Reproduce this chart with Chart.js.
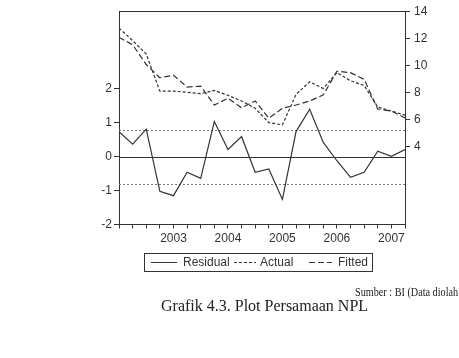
<!DOCTYPE html>
<html>
<head>
<meta charset="utf-8">
<script src="https://cdn.jsdelivr.net/npm/chart.js@4.4.1/dist/chart.umd.min.js"></script>
<style>
	html, body { margin: 0; padding: 0; background: #fff; }
	.wrap { position: relative; width: 459px; height: 358px; overflow: hidden; }
	#npl-chart { position: absolute; left: 0; top: 0; }
	.legend {
		position: absolute; left: 144px; top: 253px; width: 229px; height: 19px;
		box-sizing: border-box; border: 1px solid #333;
		font: 12px 'Liberation Sans', Arial, sans-serif; color: #333;
	}
	.legend span { position: absolute; top: 1px; line-height: 15px; }
	.legend i { position: absolute; top: 8px; height: 1px; }
	.ln-solid { background: #333; }
	.ln-short { background: repeating-linear-gradient(90deg, #333 0 3px, transparent 3px 5px); }
	.ln-long { background: repeating-linear-gradient(90deg, #333 0 6px, transparent 6px 9px); }
	.source {
		position: absolute; left: 355px; top: 285px; white-space: nowrap;
		font: 12px 'Liberation Serif', 'Times New Roman', serif; color: #222;
		transform: scaleX(0.85); transform-origin: left top;
	}
	.caption {
		position: absolute; left: 161px; top: 297px; white-space: nowrap;
		font: 16px 'Liberation Serif', 'Times New Roman', serif; color: #222;
	}
</style>
</head>
<body>
<div class="wrap">
	<canvas id="npl-chart" width="459" height="358"></canvas>
	<div class="legend">
		<i class="ln-solid" style="left:6px;width:26px"></i><span style="left:38px">Residual</span>
		<i class="ln-short" style="left:89px;width:22px"></i><span style="left:115px">Actual</span>
		<i class="ln-long" style="left:164px;width:23px"></i><span style="left:193px">Fitted</span>
	</div>
	<div class="source">Sumber : BI (Data diolah</div>
	<div class="caption">Grafik 4.3. Plot Persamaan NPL</div>
</div>

<script>
// ── Data (quarterly, 2002Q1 – 2007Q2) ─────────────────────────────────────────

const quarters = [
	'2002Q1', '2002Q2', '2002Q3', '2002Q4',
	'2003Q1', '2003Q2', '2003Q3', '2003Q4',
	'2004Q1', '2004Q2', '2004Q3', '2004Q4',
	'2005Q1', '2005Q2', '2005Q3', '2005Q4',
	'2006Q1', '2006Q2', '2006Q3', '2006Q4',
	'2007Q1', '2007Q2',
];

const residual = [
	0.74, 0.37, 0.81, -1.02, -1.15, -0.46, -0.64, 1.04, 0.21, 0.59, -0.46,
	-0.36, -1.26, 0.74, 1.40, 0.42, -0.12, -0.61, -0.46, 0.16, 0.01, 0.21,
];

const actual = [
	12.75, 11.82, 10.83, 8.08, 8.08, 7.99, 7.89, 8.13, 7.77, 7.35, 6.81,
	5.75, 5.58, 7.84, 8.77, 8.28, 9.45, 8.85, 8.5, 6.9, 6.6, 6.3,
];

const fitted = [
	12.06, 11.52, 10.05, 9.07, 9.26, 8.38, 8.45, 7.05, 7.55, 6.85, 7.35,
	6.07, 6.81, 7.05, 7.35, 7.8, 9.55, 9.45, 8.95, 6.75, 6.6, 6.1,
];

// Tick labels shown on each axis.
const residualTicks = [-2, -1, 0, 1, 2];
const levelTicks = [4, 6, 8, 10, 12, 14];
// Residual standard error band (dotted lines).
const seBand = 0.8;

// ── Helpers ───────────────────────────────────────────────────────────────────

const INK = '#333';

const toPoints = (arr) => arr.map((v, i) => ({ x: i, y: v }));

const yearLabel = (i) => {
	const q = quarters[i];
	return q && i > 0 && q.endsWith('Q1') ? q.slice(0, 4) : '';
};

// Zero line, SE band and the top frame line.
const refLines = {
	id: 'refLines',
	beforeDatasetsDraw(chart) {
		const { ctx, chartArea: a, scales } = chart;
		const yL = scales.yL;
		ctx.save();
		ctx.lineWidth = 1;
		ctx.strokeStyle = INK;
		ctx.beginPath();
		ctx.moveTo(a.left, Math.round(yL.getPixelForValue(0)) + 0.5);
		ctx.lineTo(a.right, Math.round(yL.getPixelForValue(0)) + 0.5);
		ctx.stroke();

		ctx.strokeStyle = '#777';
		ctx.setLineDash([2, 2]);
		[seBand, -seBand].forEach((v) => {
			const y = Math.round(yL.getPixelForValue(v)) + 0.5;
			ctx.beginPath();
			ctx.moveTo(a.left, y);
			ctx.lineTo(a.right, y);
			ctx.stroke();
		});
		ctx.restore();
	},
	afterDraw(chart) {
		const { ctx, chartArea: a } = chart;
		ctx.save();
		ctx.strokeStyle = INK;
		ctx.lineWidth = 1;
		ctx.beginPath();
		ctx.moveTo(a.left, Math.round(a.top) + 0.5);
		ctx.lineTo(a.right, Math.round(a.top) + 0.5);
		ctx.stroke();
		ctx.restore();
	},
};

// ── Chart ─────────────────────────────────────────────────────────────────────

Chart.defaults.font.family = "'Liberation Sans', Arial, sans-serif";
Chart.defaults.font.size = 12;
Chart.defaults.color = INK;

const lineStyle = {
	borderColor: INK,
	borderWidth: 1.2,
	pointRadius: 0,
	tension: 0,
	fill: false,
};

new Chart(document.getElementById('npl-chart'), {
	type: 'line',
	data: {
		datasets: [
			{ label: 'Residual', data: toPoints(residual), yAxisID: 'yL', ...lineStyle },
			{ label: 'Actual', data: toPoints(actual), yAxisID: 'yR', borderDash: [3, 2], ...lineStyle },
			{ label: 'Fitted', data: toPoints(fitted), yAxisID: 'yR', borderDash: [6, 3], ...lineStyle },
		],
	},
	options: {
		responsive: false,
		animation: false,
		layout: { padding: { top: 10, left: 0, right: 0, bottom: 0 } },
		plugins: { legend: { display: false }, tooltip: { enabled: false } },
		scales: {
			x: {
				type: 'linear',
				min: 0,
				max: quarters.length - 1,
				grid: { drawOnChartArea: false, tickLength: 4, color: INK },
				border: { color: INK },
				ticks: {
					stepSize: 1,
					autoSkip: false,
					maxRotation: 0,
					padding: 3,
					callback: (v) => yearLabel(v),
				},
				afterFit: (s) => { s.height = 358 - 10 - 214.5; },
			},
			yL: {
				position: 'left',
				min: -2,
				max: 4.29,
				grid: { drawOnChartArea: false, tickLength: 5, color: INK },
				border: { color: INK },
				ticks: { padding: 2 },
				afterBuildTicks: (s) => { s.ticks = residualTicks.map((v) => ({ value: v })); },
				afterFit: (s) => { s.width = 119; },
			},
			yR: {
				position: 'right',
				min: -1.8,
				max: 14,
				grid: { drawOnChartArea: false, tickLength: 5, color: INK },
				border: { color: INK },
				ticks: { padding: 4 },
				afterBuildTicks: (s) => { s.ticks = levelTicks.map((v) => ({ value: v })); },
				afterFit: (s) => { s.width = 459 - 405; },
			},
		},
	},
	plugins: [refLines],
});
</script>
</body>
</html>
